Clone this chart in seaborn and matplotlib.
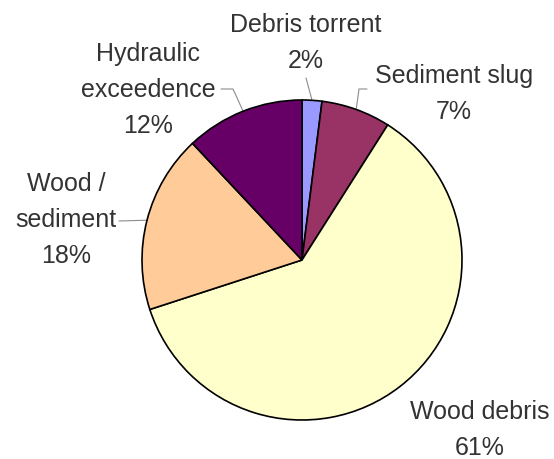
import matplotlib
matplotlib.use("Agg")
import matplotlib.pyplot as plt
import seaborn as sns
import numpy as np

# Share of events by cause
categories = ["Debris torrent", "Sediment slug", "Wood debris", "Wood /\nsediment", "Hydraulic\nexceedence"]
shares = [2, 7, 61, 18, 12]
colors = ["#9999FF", "#993366", "#FFFFCC", "#FFCC99", "#660066"]

sns.set_theme(style="white")
plt.rcParams["font.family"] = ["Liberation Sans", "DejaVu Sans"]

W, H = 554, 460
fig = plt.figure(figsize=(W / 100, H / 100), dpi=100)
ax = fig.add_axes([0, 0, 1, 1])

center = (302, H - 261)
radius = 160
wedges, _ = ax.pie(
    shares, colors=colors, startangle=90, counterclock=False,
    center=center, radius=radius,
    wedgeprops=dict(edgecolor="black", linewidth=1.2),
)
ax.set_xlim(0, W)
ax.set_ylim(0, H)
ax.set_aspect("equal")
ax.axis("off")

# label placement (pixel coordinates from the top-left corner)
label_pos = [(306, 43), (454, 94), (480, 430), (66, 220), (148, 90)]
# leader line: start near the label, optional elbow, then to the wedge rim
leaders = [
    [(306, 79)],
    [(367, 90), (359, 90)],
    None,
    [(119, 222)],
    [(221, 90), (233, 90)],
]

for wedge, cat, val, (lx, ly), lead in zip(wedges, categories, shares, label_pos, leaders):
    ax.text(lx, H - ly, f"{cat}\n{val}%", ha="center", va="center",
            fontsize=18, color="#333333", linespacing=1.65)
    if lead is None:
        continue
    mid = np.deg2rad((wedge.theta1 + wedge.theta2) / 2)
    rim = (center[0] + radius * np.cos(mid), center[1] + radius * np.sin(mid))
    pts = [(x, H - y) for x, y in lead] + [rim]
    xs, ys = zip(*pts)
    ax.plot(xs, ys, color="#8c8c8c", lw=0.8, zorder=0.5)

fig.savefig("out.png", dpi=100)
